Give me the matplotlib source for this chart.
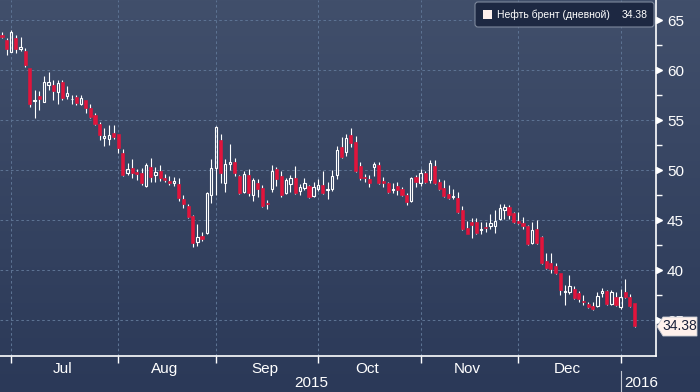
import numpy as np
import pandas as pd
import matplotlib
matplotlib.use("Agg")
import matplotlib.pyplot as plt
from matplotlib.patches import FancyBboxPatch, Polygon, Rectangle
from matplotlib.lines import Line2D
from matplotlib.colors import LinearSegmentedColormap
from matplotlib.transforms import IdentityTransform

# daily Brent candles
opens = [63.5, 63.0, 61.8, 63.2, 62.1, 61.9, 60.2, 56.9, 57.4, 56.8,
         58.5, 58.5, 57.8, 58.8, 57.4, 57.1, 57.3, 56.6, 57.0, 56.2,
         55.5, 54.6, 53.2, 53.1, 53.7, 53.6, 51.7, 49.7, 50.2, 49.8,
         49.7, 48.4, 50.3, 49.5, 49.9, 49.2, 48.9, 48.7, 48.6, 47.1,
         46.4, 45.4, 42.8, 43.4, 43.7, 47.5, 50.2, 53.0, 48.7, 50.6,
         50.8, 49.4, 47.8, 49.5, 47.5, 48.7, 48.2, 46.7, 48.1, 50.1,
         49.4, 47.7, 48.6, 49.2, 47.9, 48.2, 48.4, 47.4, 48.1, 48.5,
         48.0, 48.1, 49.5, 52.3, 51.8, 53.5, 52.8, 50.4, 49.3, 49.1,
         50.3, 50.5, 48.9, 48.7, 48.0, 48.4, 48.1, 47.5, 46.9, 49.3,
         48.7, 49.7, 49.0, 50.4, 48.8, 48.2, 47.6, 47.35, 47.2, 46.0,
         44.2, 44.8, 44.8, 44.0, 44.35, 44.4, 44.4, 45.1, 46.0, 46.3,
         45.7, 44.9, 44.7, 44.4, 42.7, 44.1, 43.3, 40.9, 40.7, 40.4,
         39.7, 37.85, 37.8, 38.1, 37.7, 36.95, 36.6, 36.4, 36.4, 37.7,
         37.9, 36.6, 37.3, 36.3, 37.8, 37.3, 36.7]
highs = [63.8, 63.2, 64.0, 63.5, 63.3, 62.2, 60.2, 58.0, 57.9, 59.4,
         59.8, 59.0, 59.0, 59.0, 58.4, 57.5, 57.5, 57.5, 57.0, 56.6,
         55.7, 54.8, 54.2, 54.5, 54.5, 53.6, 52.1, 50.7, 51.1, 50.1,
         50.2, 50.7, 51.2, 50.3, 50.5, 49.6, 49.4, 49.3, 49.2, 47.5,
         46.6, 45.5, 44.6, 43.8, 47.8, 51.1, 54.4, 53.6, 51.1, 52.6,
         51.2, 49.5, 49.9, 50.1, 49.2, 49.1, 48.5, 47.0, 50.5, 50.3,
         49.9, 49.2, 49.5, 50.4, 48.6, 49.2, 48.5, 48.8, 49.1, 49.9,
         48.8, 50.0, 52.4, 53.3, 53.6, 54.2, 53.4, 50.8, 49.6, 49.5,
         50.8, 50.8, 49.3, 48.8, 48.7, 48.8, 48.3, 47.7, 49.3, 49.5,
         50.1, 49.9, 51.0, 51.0, 49.1, 49.0, 48.5, 48.1, 47.8, 46.4,
         44.9, 45.2, 45.2, 44.8, 44.8, 45.6, 46.0, 46.6, 46.6, 46.5,
         45.8, 45.8, 45.3, 44.5, 44.8, 45.0, 43.4, 41.7, 41.7, 40.7,
         39.7, 38.5, 39.5, 38.4, 37.9, 37.5, 36.8, 36.8, 37.8, 38.2,
         38.0, 38.0, 37.8, 38.1, 39.1, 37.6, 36.7]
lows = [63.2, 61.5, 61.8, 61.7, 61.9, 60.3, 56.3, 55.2, 56.0, 56.8,
        58.0, 57.0, 56.6, 57.0, 57.1, 56.6, 56.5, 56.5, 55.7, 55.2,
        54.5, 53.0, 52.4, 52.5, 53.1, 51.7, 49.4, 49.5, 49.2, 49.0,
        48.5, 48.3, 48.8, 48.8, 48.9, 48.8, 48.5, 48.4, 46.9, 46.2,
        45.2, 42.3, 42.4, 42.9, 43.6, 46.7, 47.5, 48.7, 47.8, 50.0,
        49.4, 47.6, 47.7, 47.4, 46.9, 47.3, 46.3, 46.1, 47.8, 48.4,
        47.3, 47.6, 47.8, 47.6, 47.5, 48.0, 47.2, 47.3, 47.9, 47.6,
        47.1, 47.9, 49.1, 51.2, 51.4, 52.3, 49.8, 49.0, 48.8, 48.3,
        49.4, 48.6, 48.3, 47.7, 47.7, 47.5, 47.4, 46.5, 46.8, 48.3,
        48.4, 48.7, 48.7, 48.6, 48.0, 47.3, 47.1, 47.1, 45.7, 44.0,
        43.6, 43.2, 43.6, 43.6, 43.8, 44.1, 43.7, 45.0, 45.1, 45.1,
        44.7, 44.6, 44.1, 42.5, 42.6, 42.6, 40.6, 40.1, 39.7, 39.6,
        37.5, 36.5, 37.6, 37.1, 36.8, 36.5, 36.25, 36.0, 36.3, 37.3,
        36.5, 36.5, 36.4, 36.1, 37.2, 36.3, 34.3]
closes = [63.3, 62.1, 63.8, 62.1, 62.3, 60.5, 56.6, 57.0, 57.1, 58.8,
          58.8, 57.9, 58.7, 57.2, 57.7, 57.15, 56.7, 57.2, 56.2, 55.3,
          54.6, 53.5, 53.4, 53.5, 53.3, 52.2, 49.5, 50.1, 49.7, 49.6,
          48.7, 50.5, 49.3, 49.8, 49.2, 49.0, 48.7, 48.9, 47.2, 46.6,
          45.3, 42.7, 43.3, 43.1, 47.7, 50.2, 54.3, 49.7, 50.6, 50.8,
          49.7, 47.7, 49.6, 47.7, 49.0, 48.1, 46.4, 46.65, 49.9, 49.1,
          47.5, 49.0, 49.2, 47.7, 48.3, 48.7, 47.3, 48.3, 48.5, 47.7,
          48.1, 49.4, 52.0, 51.3, 53.2, 52.7, 49.9, 49.2, 49.25, 48.7,
          50.6, 48.7, 48.7, 47.8, 48.1, 48.0, 47.5, 46.8, 49.2, 48.8,
          49.7, 48.8, 50.7, 48.7, 48.1, 47.4, 47.2, 47.45, 45.8, 44.1,
          43.6, 44.5, 43.7, 44.1, 44.25, 44.7, 44.9, 46.2, 46.3, 45.5,
          44.8, 44.7, 44.4, 42.6, 44.0, 42.7, 40.7, 40.2, 40.1, 39.7,
          38.0, 37.95, 38.4, 37.2, 37.1, 36.85, 36.35, 36.1, 37.4, 37.9,
          36.6, 37.8, 36.5, 37.3, 37.3, 36.4, 34.38]

start_day = "2015-06-29"
end_day = "2016-01-07"
holidays = ["2015-12-25", "2016-01-01"]
month_names = ["Jul", "Aug", "Sep", "Oct", "Nov", "Dec"]
year_names = ["2015", "2016"]
y_ticks = [35, 40, 45, 50, 55, 60, 65]
series_name = "Нефть брент (дневной)"
last_price = "34.38"

W, H = 700, 392
red = "#e2143c"
narrow = ["Liberation Sans Narrow", "Liberation Sans", "DejaVu Sans"]

days = pd.bdate_range(start_day, end_day)
days = days[~days.isin(pd.to_datetime(holidays))]
x = np.arange(len(days))
months = days.to_period("M")
month_starts = [i for i in range(1, len(days)) if months[i] != months[i - 1]]
month_centers = [x[months == m].mean() for m in months.unique()[1:1 + len(month_names)]]

fig = plt.figure(figsize=(W / 100, H / 100), dpi=100)

# background gradient over the whole picture
bg = fig.add_axes([0, 0, 1, 1], zorder=-5)
grad = np.linspace(0, 1, 256).reshape(-1, 1)
cmap = LinearSegmentedColormap.from_list("bb", ["#414f6b", "#2b3958"])
bg.imshow(grad, aspect="auto", cmap=cmap, extent=[0, 1, 0, 1], origin="upper")
bg.axis("off")

ax = fig.add_axes([0, 36 / H, 656 / W, 356 / H])
ax.set_facecolor("none")
ax.set_xlim(-0.43, 140.6)
ax.set_ylim(31.4, 67.0)

o, h, l, c = map(np.array, (opens, highs, lows, closes))
up = c > o
top = np.maximum(o, c)
bot = np.minimum(o, c)
ax.vlines(x, top, h, color="white", lw=0.8, zorder=3)
ax.vlines(x, l, bot, color="white", lw=0.8, zorder=3)
ax.bar(x[~up], np.maximum(top - bot, 0.03)[~up], bottom=bot[~up], width=0.66,
       color=red, edgecolor=red, lw=0.4, zorder=4)
ax.bar(x[up], np.maximum(top - bot, 0.03)[up], bottom=bot[up], width=0.5,
       facecolor="none", edgecolor="white", lw=0.8, zorder=4)

for s in ["left", "top"]:
    ax.spines[s].set_visible(False)
for s in ["right", "bottom"]:
    ax.spines[s].set_color("white")
    ax.spines[s].set_linewidth(1.2)

ax.set_xticks(month_starts)
ax.set_xticklabels([])
ax.set_xticks(month_centers, minor=True)
ax.set_xticklabels(month_names, minor=True)
ax.tick_params(axis="x", which="major", length=5, width=1, color="white", direction="out")
ax.tick_params(axis="x", which="minor", length=0, pad=4, labelcolor="white", labelsize=11)

ax.yaxis.tick_right()
ax.set_yticks(y_ticks)
ax.set_yticks(np.arange(37.5, 65, 5), minor=True)
ax.tick_params(axis="y", which="major", length=0, pad=8, labelcolor="white", labelsize=11)
ax.tick_params(axis="y", which="minor", length=4, width=1, color="white", direction="out")
for lab in ax.get_xticklabels(minor=True) + ax.get_yticklabels():
    lab.set_family(narrow)

ax.grid(which="major", color="#5c7292", lw=0.75, linestyle=(0, (2.5, 2.5)))
ax.set_axisbelow(True)

# little pointers next to the price labels
ax.plot([141.2] * len(y_ticks), y_ticks, marker=">", ms=4.5, color="white",
        ls="none", clip_on=False, zorder=5)

# legend box
tr = IdentityTransform()
fig.patches.append(FancyBboxPatch((475, H - 27), 179, 25,
                                  boxstyle="round,pad=0,rounding_size=3",
                                  transform=tr, fc="#1d2842", ec="#7d889c", lw=0.8))
fig.patches.append(Rectangle((483, H - 18.5), 9, 9, transform=tr, fc="#fdf0ec", ec="none"))
fig.text(497 / W, 1 - 15 / H, series_name, color="white", fontsize=7.5,
         va="center", ha="left", family=["Liberation Sans", "DejaVu Sans"])
fig.text(648 / W, 1 - 15 / H, last_price, color="white", fontsize=7.5,
         va="center", ha="right", family=["Liberation Sans", "DejaVu Sans"])

# last price tag
tag = Polygon([(657, H - 326.5), (663, H - 317), (697, H - 317), (697, H - 336),
               (663, H - 336)], closed=True, transform=tr,
              fc="#fff1ec", ec="#c9ccd4", lw=0.6, zorder=10)
fig.patches.append(tag)
fig.text(680 / W, 1 - 326.5 / H, last_price, color="#18203a", fontsize=10,
         va="center", ha="center", family=narrow, zorder=11)

# year row
fig.text(311 / W, 1 - 383 / H, year_names[0], color="white", fontsize=11,
         va="center", ha="center", family=narrow)
fig.text(641 / W, 1 - 383 / H, year_names[1], color="white", fontsize=11,
         va="center", ha="center", family=narrow)
fig.lines.append(Line2D([620.5, 620.5], [0, H - 371], transform=tr,
                        color="#c0c6d2", lw=0.8))

fig.savefig("out.png", dpi=100)
